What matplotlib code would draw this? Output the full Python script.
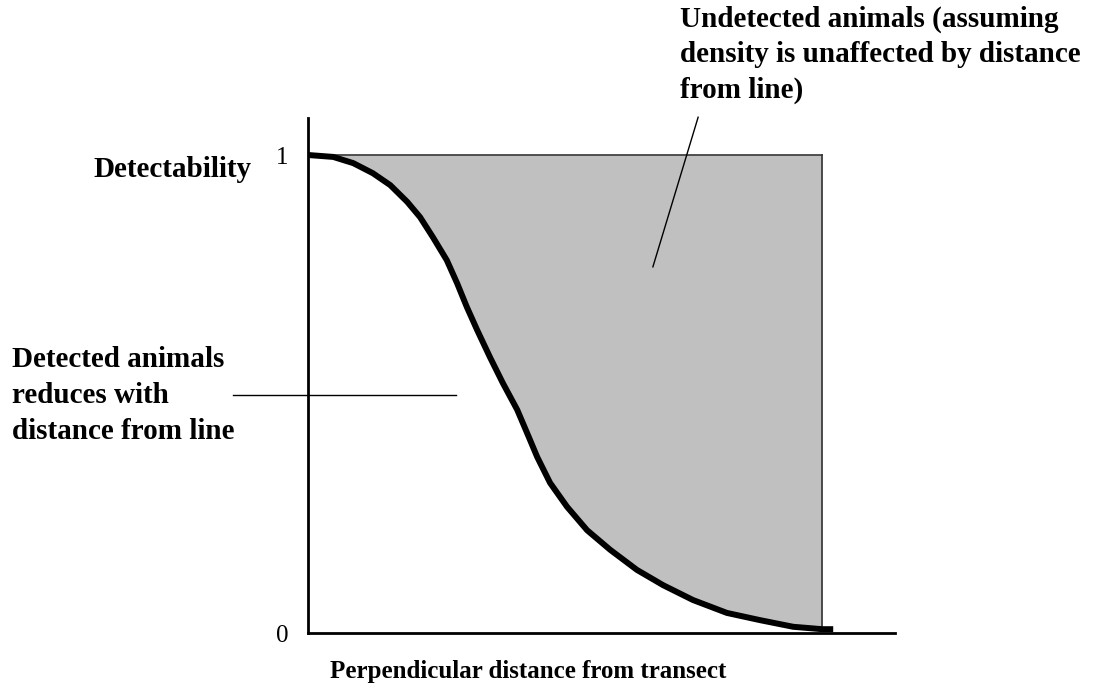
import matplotlib
matplotlib.use("Agg")
import matplotlib.pyplot as plt
import numpy as np

# === dados (distância relativa, detectabilidade) ===
dist = [0.0, 0.049, 0.088, 0.126, 0.160, 0.193, 0.218, 0.243, 0.270, 0.290,
        0.309, 0.329, 0.354, 0.379, 0.407, 0.428, 0.446, 0.471, 0.504, 0.543,
        0.588, 0.640, 0.691, 0.749, 0.815, 0.879, 0.944, 1.0, 1.016]
detect = [1.0, 0.996, 0.983, 0.962, 0.937, 0.902, 0.870, 0.828, 0.780, 0.732,
          0.682, 0.634, 0.577, 0.523, 0.467, 0.414, 0.368, 0.314, 0.264, 0.215,
          0.174, 0.132, 0.100, 0.069, 0.042, 0.027, 0.013, 0.008, 0.008]
x_max = 1.0   # fim da área sombreada
y_ticks = [0, 1]
y_ticklabels = ["0", "1"]

label_y = "Detectability"
label_x = "Perpendicular distance from transect"
txt_undet = ["Undetected animals (assuming", "density is unaffected by distance", "from line)"]
txt_det = ["Detected animals", "reduces with", "distance from line"]

W, H = 1094, 686
fig = plt.figure(figsize=(W / 100, H / 100), dpi=100)
# eixos posicionados em pixels: origem (308, 633), topo 118, direita 895
x0, y0 = 308, 633
sx, sy = 514, 478
ax = fig.add_axes([x0 / W, (H - y0) / H, (895 - x0) / W, (y0 - 118) / H])
ax.set_xlim(0, (895 - x0) / sx)
ax.set_ylim(0, (y0 - 118) / sy)

serif = "Liberation Serif"

xs = np.array(dist)
ys = np.array(detect)
mask = xs <= x_max
ax.fill_between(xs[mask], ys[mask], 1.0, color="#c0c0c0", lw=0, zorder=1)
ax.plot([0, x_max], [1, 1], color="#333333", lw=1.2, zorder=2)
ax.plot([x_max, x_max], [ys[mask][-1], 1], color="#333333", lw=1.2, zorder=2)
ax.plot(xs, ys, color="black", lw=4.3, solid_capstyle="projecting",
        solid_joinstyle="round", zorder=3)

for s in ["top", "right"]:
    ax.spines[s].set_visible(False)
for s in ["left", "bottom"]:
    ax.spines[s].set_linewidth(2.0)
ax.set_xticks([])
ax.set_yticks(y_ticks)
ax.set_yticklabels(y_ticklabels, fontfamily=serif, fontsize=18)
ax.tick_params(axis="y", length=0, pad=14)

# linhas de chamada
ax.plot([-0.146, 0.288], [0.498, 0.498], color="black", lw=1.0, clip_on=False, zorder=4)
ax.plot([0.759, 0.671], [1.079, 0.766], color="black", lw=1.0, clip_on=False, zorder=4)

def px_text(x, y, s, size=21, **kw):
    # y = linha de base em pixels
    fig.text(x / W, 1 - y / H, s, fontfamily=serif, fontweight="bold",
             fontsize=size, va="baseline", **kw)

px_text(93, 177, label_y)
px_text(528, 678, label_x, size=18, ha="center")
for i, line in enumerate(txt_undet):
    px_text(680, 27 + 35.5 * i, line)
for i, line in enumerate(txt_det):
    px_text(12, 367 + 36 * i, line)

fig.savefig("out.png", dpi=100)
